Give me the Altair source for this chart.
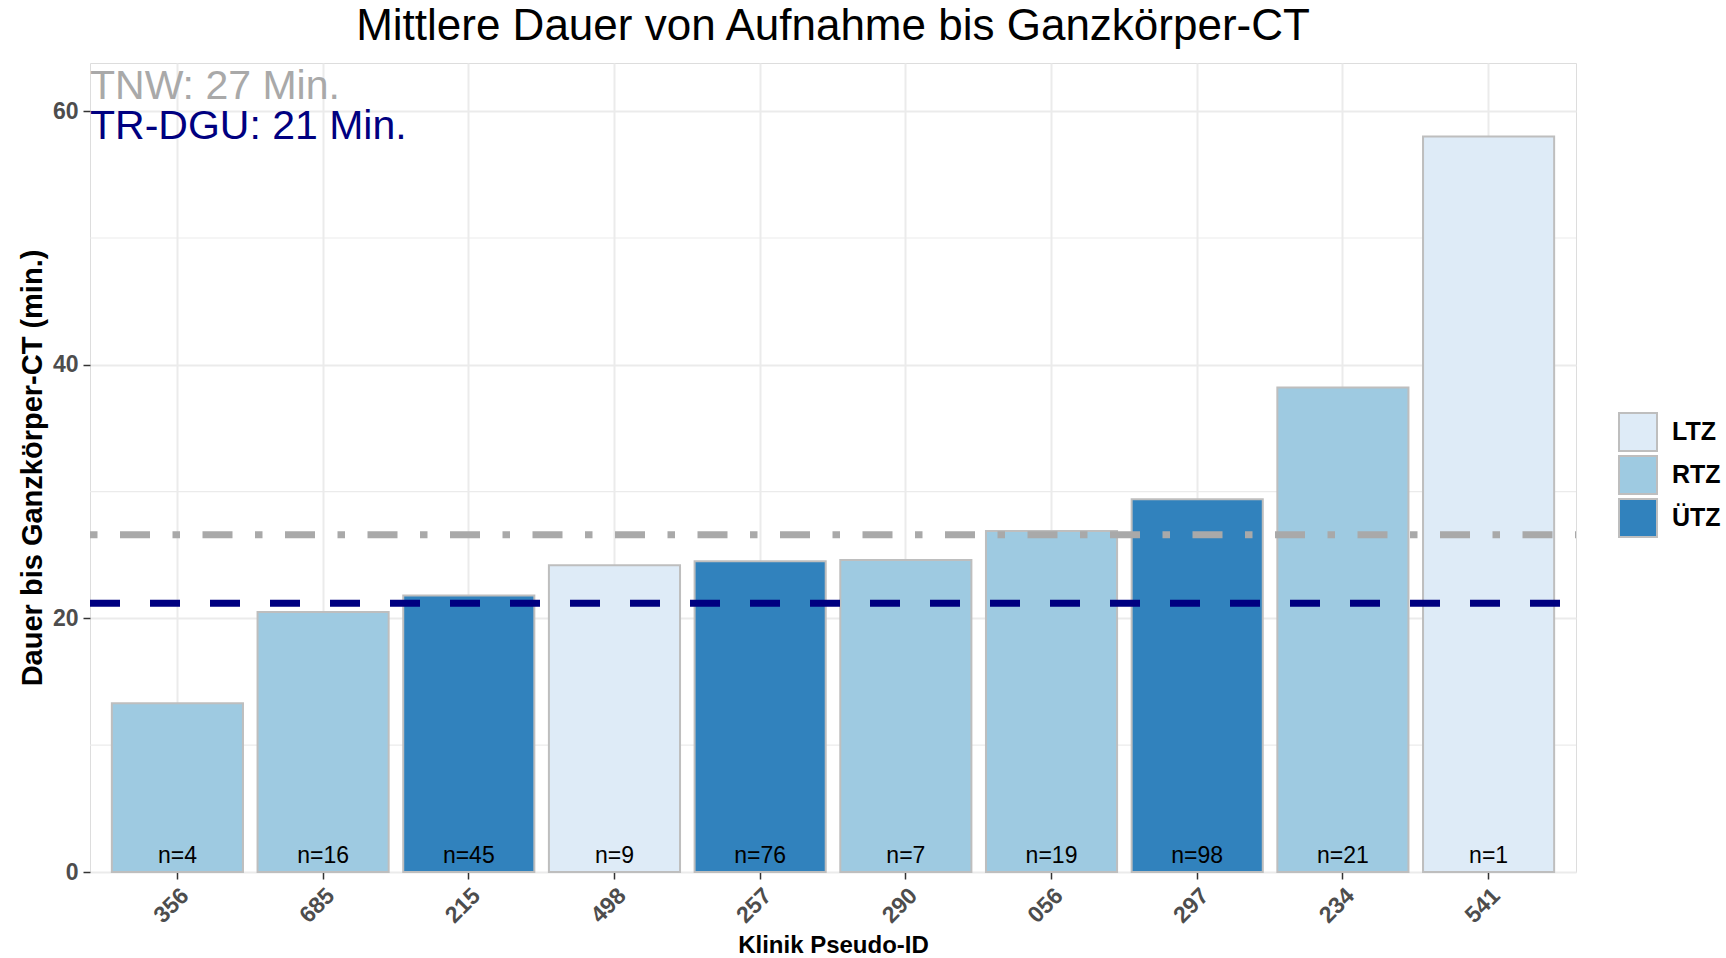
import altair as alt
import pandas as pd

# Kliniken in Reihenfolge der mittleren Dauer
kliniken = ["356", "685", "215", "498", "257", "290", "056", "297", "234", "541"]
dauer_min = [13.3, 20.5, 21.8, 24.2, 24.5, 24.6, 26.9, 29.4, 38.2, 58.0]
versorgungsstufe = ["RTZ", "RTZ", "ÜTZ", "LTZ", "ÜTZ", "RTZ", "RTZ", "ÜTZ", "RTZ", "LTZ"]
fallzahl = [4, 16, 45, 9, 76, 7, 19, 98, 21, 1]

stufen = ["LTZ", "RTZ", "ÜTZ"]
stufen_farben = ["#DEEBF7", "#9ECAE1", "#3182BD"]

# Referenzwerte (Mittelwerte)
tnw_mittel = 26.6
trdgu_mittel = 21.2

y_major = [0, 20, 40, 60]
y_minor = [10, 30, 50]
y_max = 63.8

titel = "Mittlere Dauer von Aufnahme bis Ganzkörper-CT"

FONT = "Liberation Sans"
W, H = 1486, 809

df = pd.DataFrame({
    "klinik": kliniken,
    "dauer": dauer_min,
    "stufe": versorgungsstufe,
    "n": fallzahl,
})
df["n_label"] = "n=" + df["n"].astype(str)

x_enc = alt.X(
    "klinik:N",
    sort=kliniken,
    scale=alt.Scale(paddingInner=0.1, paddingOuter=0.15),
    axis=alt.Axis(
        title="Klinik Pseudo-ID",
        titleFont=FONT, titleFontSize=24, titleFontWeight="bold", titleColor="black",
        titleX=W / 2, titleY=80, titleAlign="center", titleBaseline="alphabetic",
        labelFont=FONT, labelFontSize=23, labelFontWeight="bold", labelColor="#4D4D4D",
        labelAngle=315, labelAlign="right", labelBaseline="top", labelPadding=5,
        ticks=True, tickSize=7, tickWidth=1.5, tickColor="#333333",
        domain=False, grid=True, gridColor="#EBEBEB", gridWidth=2, bandPosition=0.5,
    ),
)

y_scale = alt.Scale(domain=[0, y_max], nice=False, zero=True)
y_axis = alt.Axis(
    title="Dauer bis Ganzkörper-CT (min.)",
    titleFont=FONT, titleFontSize=29, titleFontWeight="bold", titleColor="black",
    titleAngle=270, titleX=-49, titleY=H / 2, titleAlign="center", titleBaseline="alphabetic",
    values=y_major,
    labelFont=FONT, labelFontSize=23, labelFontWeight="bold", labelColor="#4D4D4D",
    labelPadding=5,
    ticks=True, tickSize=7, tickWidth=1.5, tickColor="#333333",
    domain=False, grid=True, gridColor="#EBEBEB", gridWidth=2,
)

# feine Hilfslinien zwischen den Hauptlinien
minor_grid = alt.Chart(pd.DataFrame({"y": y_minor})).mark_rule(
    color="#EBEBEB", strokeWidth=1.2
).encode(y=alt.Y("y:Q", scale=y_scale, axis=y_axis))

bars = alt.Chart(df).mark_bar(stroke="#BEBEBE", strokeWidth=2, opacity=1).encode(
    x=x_enc,
    y=alt.Y("dauer:Q", scale=y_scale, axis=y_axis),
    color=alt.Color(
        "stufe:N",
        scale=alt.Scale(domain=stufen, range=stufen_farben),
        legend=alt.Legend(
            title=None, orient="none", legendX=1528, legendY=349,
            symbolType="square", symbolSize=1444, symbolStrokeColor="#BEBEBE",
            symbolStrokeWidth=2, symbolOpacity=1,
            labelFont=FONT, labelFontSize=25, labelFontWeight="bold", labelColor="black",
            labelOffset=14, rowPadding=-12, padding=0,
        ),
    ),
)

n_text = alt.Chart(df).mark_text(
    font=FONT, fontSize=23, color="black", baseline="alphabetic", dy=-9
).encode(x=x_enc, y=alt.datum(0), text="n_label:N")

ref_tnw = pd.DataFrame({"wert": [tnw_mittel], "label": [f"TNW: {round(tnw_mittel)} Min."]})
ref_trdgu = pd.DataFrame({"wert": [trdgu_mittel], "label": [f"TR-DGU: {round(trdgu_mittel)} Min."]})

# Referenzlinien von links nach rechts, damit das Strichmuster links beginnt
tnw_line = alt.Chart(ref_tnw).mark_rule(
    color="#A9A9A9", strokeWidth=7, strokeDash=[7.5, 22.5, 30, 22.5]
).encode(y=alt.Y("wert:Q", scale=y_scale), x=alt.value(0), x2=alt.value(W))
trdgu_line = alt.Chart(ref_trdgu).mark_rule(
    color="#000080", strokeWidth=7, strokeDash=[30, 30]
).encode(y=alt.Y("wert:Q", scale=y_scale), x=alt.value(0), x2=alt.value(W))

tnw_text = alt.Chart(ref_tnw).mark_text(
    font=FONT, fontSize=41, color="#A9A9A9", align="left", baseline="alphabetic"
).encode(x=alt.value(0), y=alt.value(35.6), text="label:N")
trdgu_text = alt.Chart(ref_trdgu).mark_text(
    font=FONT, fontSize=41, color="#000080", align="left", baseline="alphabetic"
).encode(x=alt.value(0), y=alt.value(75.6), text="label:N")

# Diagrammtitel, zentriert über der Zeichenfläche
title_text = alt.Chart(pd.DataFrame({"titel": [titel]})).mark_text(
    font=FONT, fontSize=44, color="black", align="center", baseline="alphabetic"
).encode(x=alt.value(W / 2), y=alt.value(-23), text="titel:N")

chart = alt.layer(
    minor_grid, bars, n_text, tnw_line, trdgu_line, tnw_text, trdgu_text, title_text
).properties(
    width=W,
    height=H,
    autosize=alt.AutoSizeParams(type="none"),
    padding={"left": 90, "top": 63, "right": 150, "bottom": 86},
).configure_view(
    stroke="#333333", strokeWidth=1.5
).configure(
    background="white"
)

chart.save("out.html", embed_options={"renderer": "svg", "actions": False})
